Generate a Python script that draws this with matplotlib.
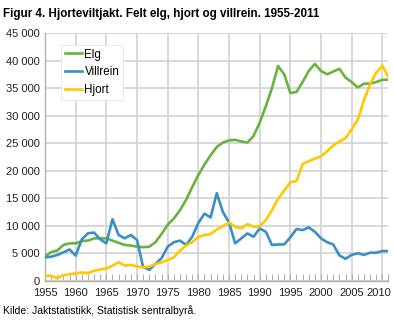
import matplotlib
matplotlib.use('Agg')
import matplotlib.pyplot as plt
from matplotlib.ticker import FuncFormatter, MultipleLocator

years = list(range(1955, 2012))

elg = [4400, 5200, 5500, 6500, 6800, 6800, 7200, 7300, 7700, 7700,
       7700, 7300, 6900, 6500, 6400, 6200, 6100, 6200, 7000, 8500,
       10200, 11300, 12800, 14700, 17000, 19200, 21100, 22800, 24300, 25100,
       25500, 25600, 25300, 25100, 26300, 28700, 31700, 35000, 39000, 37500,
       34100, 34300, 36100, 38100, 39400, 38100, 37500, 38000, 38500, 36900,
       36100, 35100, 35800, 35800, 36100, 36500, 36500]

villrein = [4250, 4370, 4680, 5160, 5700, 4560, 7530, 8630, 8750, 7530,
            6800, 11180, 8320, 7720, 8320, 7410, 2500, 2000, 3070, 4100,
            6200, 7000, 7300, 6500, 8000, 10500, 12200, 11500, 15900, 12500,
            10600, 6800, 7700, 8600, 8000, 9500, 8900, 6500, 6600, 6600,
            7900, 9400, 9200, 9700, 8900, 7700, 7000, 6600, 4600, 4000,
            4700, 5000, 4700, 5100, 5100, 5400, 5400]

hjort = [900, 900, 500, 1000, 1200, 1350, 1500, 1400, 1800, 2050,
         2250, 2750, 3350, 2750, 2900, 2600, 2450, 2550, 3050, 3350,
         3750, 4250, 5450, 6400, 7000, 7950, 8300, 8500, 9300, 9900,
         10600, 9800, 9500, 10300, 9800, 9900, 11000, 12800, 14900, 16400,
         17900, 18100, 21200, 21700, 22200, 22600, 23500, 24600, 25300, 25900,
         27500, 29300, 32800, 35700, 37800, 39100, 36900]

LAST_YEAR_TICK = 2010

plt.rcParams['font.family'] = ['Liberation Sans', 'DejaVu Sans']

fig = plt.figure(figsize=(3.93, 3.22), dpi=100)
ax = fig.add_axes([0.1145, 0.128, 0.874, 0.7695])

ax.plot(years, elg, color='#6ab23e', lw=1.9, label='Elg', zorder=3)
ax.plot(years, villrein, color='#3a8fc6', lw=1.9, label='Villrein', zorder=3)
ax.plot(years, hjort, color='#ffc800', lw=1.9, label='Hjort', zorder=3)

ax.set_xlim(1955, 2011)
ax.set_ylim(0, 45000)
ax.xaxis.set_major_locator(MultipleLocator(5))
ax.xaxis.set_minor_locator(MultipleLocator(1))
ax.yaxis.set_major_locator(MultipleLocator(5000))
ax.yaxis.set_major_formatter(FuncFormatter(lambda v, p: f'{int(v):,}'.replace(',', ' ')))
# last year label is drawn by hand, nudged left so it fits in the picture
ax.xaxis.set_major_formatter(FuncFormatter(lambda v, p: '' if round(v) == LAST_YEAR_TICK else f'{int(round(v))}'))

ax.grid(True, which='major', color='#d2d2d2', lw=1.2)
ax.set_axisbelow(True)
for s in ['top', 'right']:
    ax.spines[s].set_visible(False)
for s in ['left', 'bottom']:
    ax.spines[s].set_color('#b0b0b0')
    ax.spines[s].set_linewidth(1.0)

ax.tick_params(axis='y', which='major', labelsize=8, length=0, pad=4, colors='#222222')
ax.tick_params(axis='x', which='major', labelsize=8, direction='in', length=5,
               pad=5, color='#b0b0b0', labelcolor='#222222', width=0.8)
ax.tick_params(axis='x', which='minor', direction='in', length=5, color='#b0b0b0', width=0.8)

ax.annotate(str(LAST_YEAR_TICK), xy=(LAST_YEAR_TICK, 0), xycoords=('data', 'axes fraction'),
            xytext=(-2.5, -5), textcoords='offset points', ha='center', va='top',
            fontsize=8, color='#222222', annotation_clip=False)

leg = ax.legend(loc='upper left', bbox_to_anchor=(0.03, 0.975), fontsize=8.4, frameon=True,
                fancybox=False, edgecolor='#e6e6e6', facecolor='white', framealpha=1,
                handlelength=1.5, handletextpad=0.2, labelspacing=0.5, borderpad=0.3)
leg.get_frame().set_linewidth(0.6)

fig.text(0.008, 0.975, 'Figur 4. Hjorteviltjakt. Felt elg, hjort og villrein. 1955-2011',
         fontsize=8.4, fontweight='bold', va='top', ha='left')
fig.text(0.008, 0.018, 'Kilde: Jaktstatistikk, Statistisk sentralbyrå.',
         fontsize=7.5, va='bottom', ha='left')

fig.savefig('out.png', dpi=100)
